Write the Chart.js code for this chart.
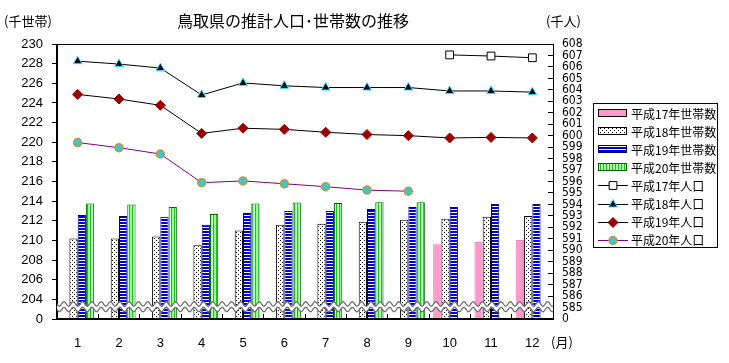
<!DOCTYPE html>
<html><head><meta charset="utf-8">
<script src="https://cdn.jsdelivr.net/npm/chart.js@4.4.0/dist/chart.umd.min.js"></script>
<style>html,body{margin:0;padding:0;background:#fff;}#wrap{width:729px;height:363px;position:relative;}</style>
</head><body><div id="wrap"><canvas id="c" width="729" height="363"></canvas></div>
<script>
// ---- data ----
const months = ['1','2','3','4','5','6','7','8','9','10','11','12'];
const householdsH17 = [null,null,null,null,null,null,null,null,null,209.6,209.85,210.05];
const householdsH18 = [210.2,210.2,210.4,209.5,211.0,211.6,211.7,211.9,212.1,212.2,212.4,212.5];
const householdsH19 = [212.6,212.5,212.4,211.6,212.8,213.0,213.0,213.2,213.4,213.4,213.7,213.7];
const householdsH20 = [213.75,213.65,213.4,212.7,213.75,213.85,213.8,213.9,213.9,null,null,null];
const populationH17 = [null,null,null,null,null,null,null,null,null,607.05,606.95,606.8];
const populationH18 = [606.5,606.25,605.9,603.55,604.6,604.35,604.2,604.2,604.2,603.9,603.9,603.8];
const populationH19 = [603.6,603.2,602.65,600.2,600.65,600.55,600.3,600.1,600.0,599.8,599.85,599.8];
const populationH20 = [599.4,598.95,598.4,595.9,596.05,595.8,595.55,595.25,595.15,null,null,null];
const seriesNames = ['平成17年世帯数','平成18年世帯数','平成19年世帯数','平成20年世帯数','平成17年人口','平成18年人口','平成19年人口','平成20年人口'];
const leftAxis = {min:202, max:230, step:2, breakLabel:'0'};
const rightAxis = {min:584, max:608, step:1, breakLabel:'0'};
const breakValue = 203.25;
const titleText = '鳥取県の推計人口･世帯数の推移';
const leftUnit = '(千世帯)';
const rightUnit = '(千人)';
const xUnit = '(月)';

// ---- patterns ----
function makePattern(w,h,draw){
  const c=document.createElement('canvas');c.width=w;c.height=h;
  const g=c.getContext('2d');draw(g);
  return document.getElementById('c').getContext('2d').createPattern(c,'repeat');
}
const dotPat = makePattern(4,4,g=>{g.fillStyle='#fff';g.fillRect(0,0,4,4);g.fillStyle='#000';g.fillRect(0,0,1,1);g.fillRect(2,2,1,1);});
const hPat = makePattern(1,3,g=>{g.fillStyle='#0000cc';g.fillRect(0,0,1,2);g.fillStyle='#fff';g.fillRect(0,2,1,1);});
const vPat = makePattern(3,1,g=>{g.fillStyle='#22bb22';g.fillRect(0,0,1,1);g.fillStyle='#88ff88';g.fillRect(1,0,1,1);g.fillStyle='#ccffcc';g.fillRect(2,0,1,1);});

const barCommon = {type:'bar', yAxisID:'y', order:2, borderWidth:1, barPercentage:1.0, categoryPercentage:0.8, base:leftAxis.min};
const lineCommon = {type:'line', yAxisID:'y2', order:1, borderWidth:1, tension:0, fill:false, spanGaps:false};

const datasets = [
  Object.assign({label:seriesNames[0], data:householdsH17, backgroundColor:'#ff99cc', borderColor:'#f080b8'}, barCommon),
  Object.assign({label:seriesNames[1], data:householdsH18, backgroundColor:dotPat, borderColor:'#000'}, barCommon),
  Object.assign({label:seriesNames[2], data:householdsH19, backgroundColor:hPat, borderColor:'#000080'}, barCommon),
  Object.assign({label:seriesNames[3], data:householdsH20, backgroundColor:vPat, borderColor:'#006600'}, barCommon),
  Object.assign({label:seriesNames[4], data:populationH17, borderColor:'#000', pointStyle:'rect', pointRadius:5.5, pointBackgroundColor:'#fff', pointBorderColor:'#000', pointBorderWidth:1}, lineCommon),
  Object.assign({label:seriesNames[5], data:populationH18, borderColor:'#000', pointStyle:'triangle', pointRadius:5, pointBackgroundColor:'#000020', pointBorderColor:'#33e8e8', pointBorderWidth:1}, lineCommon),
  Object.assign({label:seriesNames[6], data:populationH19, borderColor:'#000', pointStyle:'rectRot', pointRadius:5, pointBackgroundColor:'#990000', pointBorderColor:'#990000', pointBorderWidth:1}, lineCommon),
  Object.assign({label:seriesNames[7], data:populationH20, borderColor:'#800080', pointStyle:'circle', pointRadius:4, pointBackgroundColor:'#33cccc', pointBorderColor:'#d09040', pointBorderWidth:1.5}, lineCommon)
];

const CJK = '"Noto Sans CJK JP", "Noto Sans", sans-serif';

function drawMarker(ctx, ds, x, y){
  const r = ds.pointRadius;
  ctx.save();
  ctx.fillStyle = ds.pointBackgroundColor; ctx.strokeStyle = ds.pointBorderColor; ctx.lineWidth = ds.pointBorderWidth;
  ctx.beginPath();
  if (ds.pointStyle==='rect'){ const s=r*Math.SQRT1_2; ctx.rect(x-s,y-s,2*s,2*s); }
  else if (ds.pointStyle==='triangle'){ ctx.moveTo(x,y-r); ctx.lineTo(x+r*0.866,y+r*0.5); ctx.lineTo(x-r*0.866,y+r*0.5); ctx.closePath(); }
  else if (ds.pointStyle==='rectRot'){ ctx.moveTo(x,y-r); ctx.lineTo(x+r,y); ctx.lineTo(x,y+r); ctx.lineTo(x-r,y); ctx.closePath(); }
  else { ctx.arc(x,y,r,0,Math.PI*2); }
  ctx.fill(); ctx.stroke(); ctx.restore();
}

const decor = {
  id:'decor',
  afterDatasetsDraw(chart){
    const {ctx, chartArea:a, scales} = chart;
    const yc = scales.y.getPixelForValue(breakValue);
    const per = 9.3, amp = 2.2, gap = 2.2;
    const f = (x)=> amp*Math.sin((x-a.left)/per*2*Math.PI);
    ctx.save();
    ctx.beginPath();
    for (let x=a.left; x<=a.right; x+=0.5){ const yy=yc-gap+f(x); if(x===a.left)ctx.moveTo(x,yy); else ctx.lineTo(x,yy); }
    for (let x=a.right; x>=a.left; x-=0.5){ ctx.lineTo(x,yc+gap+f(x)); }
    ctx.closePath(); ctx.fillStyle='#ffffff'; ctx.fill();
    ctx.strokeStyle='#707070'; ctx.lineWidth=1.3;
    for (const off of [-gap-0.6, gap+0.6]){
      ctx.beginPath();
      for (let x=a.left; x<=a.right; x+=0.5){ const yy=yc+off+f(x); if(x===a.left)ctx.moveTo(x,yy); else ctx.lineTo(x,yy); }
      ctx.stroke();
    }
    ctx.restore();
  },
  afterDraw(chart){
    const {ctx, chartArea:a} = chart;
    ctx.save();
    ctx.strokeStyle='#000'; ctx.lineWidth=1;
    ctx.strokeRect(Math.round(a.left)-0.5, Math.round(a.top)+0.5, Math.round(a.right-a.left)+1, Math.round(a.bottom-a.top)-1);
    ctx.fillStyle='#000'; ctx.textBaseline='middle';
    ctx.font='13px '+CJK; ctx.textAlign='left';
    ctx.fillText(leftUnit, 4, 21);
    ctx.fillText(rightUnit, 546, 21);
    ctx.fillText(xUnit, 551, 342);
    ctx.font='16px '+CJK; ctx.textAlign='center';
    ctx.fillText(titleText, 293, 21);
    // legend
    const lx=593.5, ly=103.5, lw=124, lh=144;
    ctx.fillStyle='#fff'; ctx.fillRect(lx,ly,lw,lh);
    ctx.strokeStyle='#000'; ctx.lineWidth=1; ctx.strokeRect(lx,ly,lw,lh);
    ctx.font='12px '+CJK; ctx.textAlign='left'; ctx.textBaseline='middle';
    chart.data.datasets.forEach((ds,i)=>{
      const y = 113 + i*18.1;
      if (ds.type==='bar'){
        ctx.fillStyle = ds.backgroundColor; ctx.fillRect(598, Math.round(y)-4, 29, 8);
        ctx.strokeStyle = (i===2)?'#000080':(i===3?'#006600':'#000'); ctx.lineWidth=1;
        ctx.strokeRect(598.5, Math.round(y)-3.5, 28, 7);
      } else {
        ctx.strokeStyle = ds.borderColor; ctx.lineWidth=1;
        ctx.beginPath(); ctx.moveTo(598, Math.round(y)+0.5); ctx.lineTo(628, Math.round(y)+0.5); ctx.stroke();
        drawMarker(ctx, ds, 613, Math.round(y)+0.5);
      }
      ctx.fillStyle='#000'; ctx.fillText(ds.label, 631, y+1);
    });
    ctx.restore();
  }
};

new Chart(document.getElementById('c'), {
  data:{labels:months, datasets},
  options:{
    responsive:false, animation:false,
    layout:{padding:{top:44, left:0, right:136, bottom:0}},
    plugins:{legend:{display:false}, title:{display:false}, tooltip:{enabled:false}},
    scales:{
      x:{
        grid:{drawOnChartArea:false, drawTicks:true, tickLength:-5, color:'#000', offset:true},
        border:{display:true, color:'#000'},
        ticks:{color:'#000', font:{family:'"Liberation Sans", Arial, sans-serif', size:13}, padding:22, maxRotation:0, autoSkip:false},
        afterFit(s){ s.height = 44; }
      },
      y:{
        position:'left', min:leftAxis.min, max:leftAxis.max,
        grid:{drawOnChartArea:false, tickLength:5, color:'#000'},
        border:{display:true, color:'#000'},
        ticks:{stepSize:leftAxis.step, autoSkip:false, color:'#000', padding:9,
          font:{family:'"Liberation Sans", Arial, sans-serif', size:13},
          callback:(v)=> v===leftAxis.min ? leftAxis.breakLabel : String(v)},
        afterFit(s){ s.width = 57; }
      },
      y2:{
        position:'right', min:rightAxis.min, max:rightAxis.max,
        grid:{drawOnChartArea:false, tickLength:-5, color:'#000'},
        border:{display:true, color:'#000'},
        ticks:{stepSize:rightAxis.step, autoSkip:false, color:'#000', padding:14,
          font:{family:'"Liberation Sans Narrow", "DejaVu Sans Condensed", "Liberation Sans", sans-serif', size:12},
          callback:(v)=> v===rightAxis.min ? rightAxis.breakLabel : String(v)},
        afterFit(s){ s.width = 40; }
      }
    }
  },
  plugins:[decor]
});
</script></body></html>
